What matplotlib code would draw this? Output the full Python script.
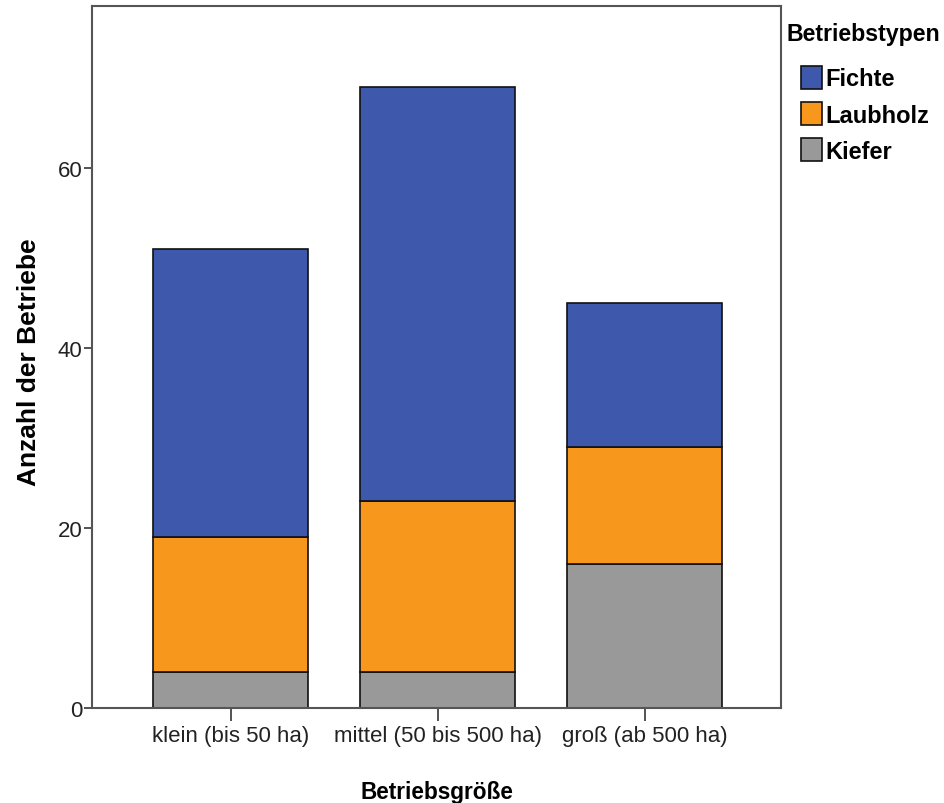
import matplotlib
matplotlib.use("Agg")
import matplotlib.pyplot as plt
import numpy as np

# data
groessen = ["klein (bis 50 ha)", "mittel (50 bis 500 ha)", "groß (ab 500 ha)"]
kiefer = [4, 4, 16]
laubholz = [15, 19, 13]
fichte = [32, 46, 16]
yticks = [0, 20, 40, 60]

col_fichte, col_laub, col_kiefer = "#3e58ac", "#f7981d", "#999999"

plt.rcParams['font.family'] = ['Liberation Sans', 'DejaVu Sans']

fig = plt.figure(figsize=(9.45, 8.04), dpi=100)
ax = fig.add_axes([92/945, 1 - 709/804, 689/945, 702/804])

x = np.arange(len(groessen))
w = 0.75
kw = dict(width=w, edgecolor="#111111", linewidth=1.2)
ax.bar(x, kiefer, color=col_kiefer, label="Kiefer", **kw)
ax.bar(x, laubholz, bottom=kiefer, color=col_laub, label="Laubholz", **kw)
bot2 = np.array(kiefer) + np.array(laubholz)
ax.bar(x, fichte, bottom=bot2, color=col_fichte, label="Fichte", **kw)

ax.set_xlim(-0.669, 2.659)
ax.set_ylim(0, 78)
ax.set_xticks(x)
ax.set_xticklabels(groessen, fontsize=16, color="#222222")
ax.set_yticks(yticks)
ax.set_yticklabels([str(v) for v in yticks], fontsize=16, color="#222222")
ax.tick_params(axis="y", direction="out", length=6, width=1.3, pad=1, color="#444444")
ax.tick_params(axis="x", direction="out", length=9, width=1.3, pad=3, color="#444444")
for s in ax.spines.values():
    s.set_color("#555555")
    s.set_linewidth(1.5)

ax.set_xlabel("Betriebsgröße", fontsize=16.3, fontweight="bold")
ax.xaxis.set_label_coords(0.5, -0.103)
ax.set_ylabel("Anzahl der Betriebe", fontsize=19, fontweight="bold")
ax.yaxis.set_label_coords(-0.074, 0.494)

# legend on the right
fig.text(787/945, 1 - 35/804, "Betriebstypen", fontsize=16.7, fontweight="bold", va="center", ha="left")
h, l = ax.get_legend_handles_labels()
leg = fig.legend(h[::-1], l[::-1], loc="upper left", bbox_to_anchor=(801/945, 1 - 67/804),
                 frameon=False, prop={"weight": "bold", "size": 17},
                 handlelength=0.9, handleheight=1.1, handletextpad=0.15,
                 labelspacing=0.5, borderpad=0, borderaxespad=0)

fig.savefig("out.png", dpi=100)
